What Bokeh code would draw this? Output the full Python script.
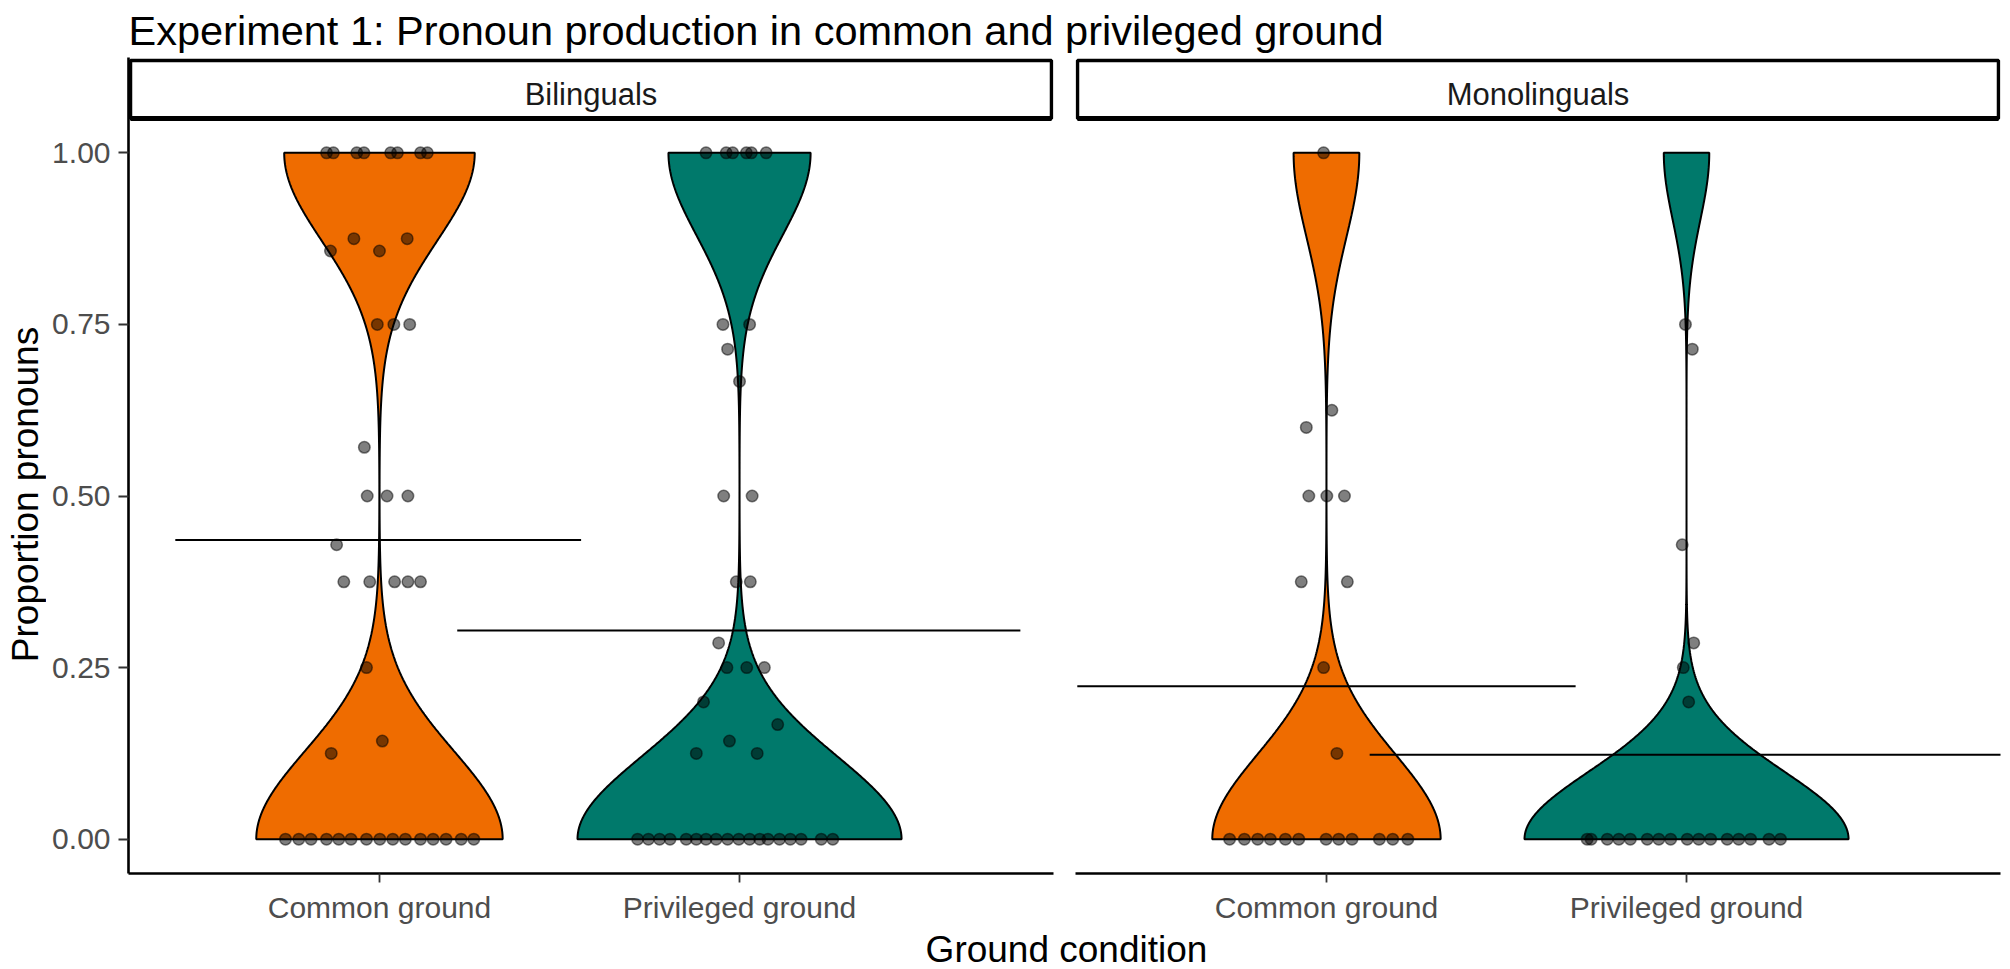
import numpy as np
from bokeh.plotting import figure
from bokeh.layouts import column, row
from bokeh.models import Range1d, FixedTicker, Label, NumeralTickFormatter
from bokeh.embed import file_html
from bokeh.resources import INLINE

# ---------------- data ----------------
title_text = "Experiment 1: Pronoun production in common and privileged ground"
panels = ["Bilinguals", "Monolinguals"]
conditions = ["Common ground", "Privileged ground"]
y_ticks = [0.0, 0.25, 0.50, 0.75, 1.0]
x_title = "Ground condition"
y_title = "Proportion pronouns"

# participant proportions and their horizontal jitter (x units)
bil_common_prop = [1, 1, 1, 1, 1, 1, 1, 1, 0.875, 0.875, 0.857, 0.857, 0.75, 0.75, 0.75,
                   0.571, 0.5, 0.5, 0.5, 0.429, 0.375, 0.375, 0.375, 0.375, 0.375,
                   0.25, 0.143, 0.125] + [0] * 15
bil_common_jitter = [-0.147, -0.128, -0.063, -0.043, 0.031, 0.05, 0.114, 0.133,
                     -0.071, 0.077, -0.136, 0.0, -0.006, 0.04, 0.084,
                     -0.042, -0.034, 0.021, 0.079, -0.119,
                     -0.099, -0.027, 0.042, 0.079, 0.114,
                     -0.036, 0.008, -0.134,
                     -0.261, -0.224, -0.19, -0.147, -0.113, -0.079, -0.036, 0.001,
                     0.037, 0.072, 0.114, 0.149, 0.185, 0.227, 0.262]

bil_priv_prop = [1, 1, 1, 1, 1, 1, 0.75, 0.75, 0.714, 0.667, 0.5, 0.5, 0.375, 0.375,
                 0.286, 0.25, 0.25, 0.25, 0.2, 0.167, 0.143, 0.125, 0.125] + [0] * 18
bil_priv_jitter = [-0.093, -0.037, -0.019, 0.019, 0.033, 0.074, -0.046, 0.028, -0.033,
                   0.0, -0.044, 0.035, -0.009, 0.03, -0.058, -0.035, 0.02, 0.069,
                   -0.1, 0.106, -0.028, -0.12, 0.049,
                   -0.283, -0.253, -0.222, -0.193, -0.148, -0.12, -0.093, -0.065,
                   -0.033, -0.002, 0.028, 0.056, 0.079, 0.111, 0.141, 0.171, 0.227, 0.259]

mono_common_prop = [1, 0.625, 0.6, 0.5, 0.5, 0.5, 0.375, 0.375, 0.25, 0.125] + [0] * 12
mono_common_jitter = [-0.008, 0.015, -0.056, -0.049, 0.001, 0.05, -0.07, 0.058, -0.008, 0.029,
                      -0.269, -0.228, -0.191, -0.156, -0.114, -0.077, -0.001, 0.034,
                      0.071, 0.147, 0.184, 0.226]

mono_priv_prop = [0.75, 0.714, 0.429, 0.286, 0.25, 0.2] + [0] * 16
mono_priv_jitter = [-0.003, 0.016, -0.012, 0.02, -0.009, 0.006,
                    -0.276, -0.265, -0.22, -0.188, -0.156, -0.109, -0.077, -0.044,
                    0.002, 0.034, 0.067, 0.113, 0.145, 0.178, 0.229, 0.261]

# trial-level counts behind the violins (bil-common, bil-priv, mono-common, mono-priv)
trials_total = [516, 492, 264, 252]
trials_pronoun = [225, 150, 59, 31]

# horizontal mean lines (bil-common, bil-priv, mono-common, mono-priv)
mean_y = [0.436, 0.304, 0.223, 0.123]
mean_x0 = [0.433, 1.216, 0.308, 1.12]
mean_x1 = [1.56, 2.78, 1.692, 2.88]

props = [bil_common_prop, bil_priv_prop, mono_common_prop, mono_priv_prop]
jitters = [bil_common_jitter, bil_priv_jitter, mono_common_jitter, mono_priv_jitter]

# ---------------- style / layout ----------------
FONT = "Liberation Sans"
FILL = ["#EF6C00", "#00796B"]
X_LO, X_HI = 0.303, 2.872
FRAME_W = 925
FRAME_H = 818
FRAME_TOP = 57      # page row of the panel frame top
FRAME_BOT = 875     # page row of the panel frame bottom
PX_PER_Y = 688.0
TOP_H = 55          # title strip height
FIG_H = 871         # panel figure height
BOT_H = 43          # x-title strip height
YT_W = 46           # y-title strip width
BASE_SHIFT = 0.30   # em fraction: rendered alphabetic baseline sits this much below y


def y_at(page_y):
    # page pixel row -> data y (frame bottom equals -0.05)
    return -0.05 + (FRAME_BOT - page_y) / PX_PER_Y


def bw_nrd0(x):
    x = np.asarray(x, float)
    hi = x.std(ddof=1)
    q75, q25 = np.percentile(x, [75, 25])
    lo = min(hi, (q75 - q25) / 1.34)
    if lo == 0:
        lo = hi if hi else (abs(x[0]) if x[0] else 1.0)
    return 0.9 * lo * len(x) ** -0.2


def density(x, grid):
    x = np.asarray(x, float)
    bw = bw_nrd0(x)
    vals, counts = np.unique(x, return_counts=True)
    z = (grid[:, None] - vals[None, :]) / bw
    return (np.exp(-0.5 * z ** 2) * counts[None, :]).sum(1) / (len(x) * bw * np.sqrt(2 * np.pi))


def make_panel(pi, border_left, border_right, show_y):
    top_b = FRAME_TOP - TOP_H
    p = figure(width=border_left + FRAME_W + border_right, height=FIG_H,
               x_range=Range1d(X_LO, X_HI),
               y_range=Range1d(-0.05, -0.05 + FRAME_H / PX_PER_Y),
               toolbar_location=None, output_backend="svg", title=None,
               y_axis_location="left" if show_y else None,
               min_border_left=border_left, min_border_right=border_right,
               min_border_top=top_b, min_border_bottom=FIG_H - top_b - FRAME_H)
    p.outline_line_color = None
    p.grid.visible = False
    p.background_fill_color = "white"
    p.border_fill_color = "white"

    # violins (density of trial-level binary responses, area-scaled per panel)
    shapes = []
    for ci in range(2):
        g = pi * 2 + ci
        trials = np.array([1.0] * trials_pronoun[g] + [0.0] * (trials_total[g] - trials_pronoun[g]))
        grid = np.linspace(trials.min(), trials.max(), 512)
        shapes.append((grid, density(trials, grid)))
    dmax = max(d.max() for _, d in shapes)
    for ci, (grid, d) in enumerate(shapes):
        half = 0.45 * d / dmax
        cx = ci + 1
        xs = np.concatenate([cx - half, (cx + half)[::-1]])
        ys = np.concatenate([grid, grid[::-1]])
        p.patch(xs, ys, fill_color=FILL[ci], line_color="black", line_width=2)

    # points
    for ci in range(2):
        g = pi * 2 + ci
        xs = [ci + 1 + j for j in jitters[g]]
        p.scatter(xs, props[g], size=11.5, fill_color="black", fill_alpha=0.5,
                  line_color="black", line_alpha=0.5, line_width=1.5)

    # mean lines
    for ci in range(2):
        g = pi * 2 + ci
        p.segment(x0=[mean_x0[g]], x1=[mean_x1[g]], y0=[mean_y[g]], y1=[mean_y[g]],
                  line_color="black", line_width=2)

    # strip
    sl = X_LO + 2 / 360.0
    sr = X_HI - 2 / 360.0
    st = y_at(60)
    sb = 1.05
    p.quad(left=[sl], right=[sr], top=[st], bottom=[sb], fill_color="white",
           line_color="black", line_width=3.5)
    p.segment(x0=[sl], x1=[sr], y0=[sb], y1=[sb], line_color="black", line_width=5)
    p.add_layout(Label(x=(X_LO + X_HI) / 2, y=y_at(103 - BASE_SHIFT * 31), text=panels[pi],
                       text_align="center", text_baseline="alphabetic",
                       text_font=FONT, text_font_size="31px", text_color="#1A1A1A"))

    # x axis
    xa = p.xaxis[0]
    xa.ticker = FixedTicker(ticks=[1, 2])
    xa.major_label_overrides = {1: conditions[0], 2: conditions[1]}
    xa.minor_tick_line_color = None
    xa.major_tick_in = 0
    xa.major_tick_out = 9
    xa.major_tick_line_color = "#333333"
    xa.major_tick_line_width = 1.8
    xa.axis_line_color = "black"
    xa.axis_line_width = 2.6
    xa.major_label_text_font = FONT
    xa.major_label_text_font_size = "30px"
    xa.major_label_text_color = "#4D4D4D"
    xa.major_label_standoff = 8

    if show_y:
        ya = p.yaxis[0]
        ya.ticker = FixedTicker(ticks=y_ticks)
        ya.formatter = NumeralTickFormatter(format="0.00")
        ya.minor_tick_line_color = None
        ya.major_tick_in = 0
        ya.major_tick_out = 10
        ya.major_tick_line_color = "#333333"
        ya.major_tick_line_width = 1.8
        ya.axis_line_color = "black"
        ya.axis_line_width = 2.6
        ya.major_label_text_font = FONT
        ya.major_label_text_font_size = "30px"
        ya.major_label_text_color = "#4D4D4D"
        ya.major_label_standoff = 8
    return p


def text_fig(width, height, txt, x, y, size, align, angle=0.0):
    f = figure(width=width, height=height, x_range=Range1d(0, 1), y_range=Range1d(0, 1),
               toolbar_location=None, output_backend="svg", title=None,
               x_axis_location=None, y_axis_location=None,
               min_border=0, min_border_left=0, min_border_right=0,
               min_border_top=0, min_border_bottom=0)
    f.outline_line_color = None
    f.grid.visible = False
    f.add_layout(Label(x=x, y=y, x_units="screen", y_units="screen", text=txt,
                       angle=angle, text_align=align, text_baseline="alphabetic",
                       text_font=FONT, text_font_size=size, text_color="black"))
    return f


left = make_panel(0, 128 - YT_W, 11, True)
right = make_panel(1, 11, 3, False)
TOTAL_W = YT_W + left.width + right.width

title_fig = text_fig(TOTAL_W, TOP_H, title_text, 128, TOP_H - 42 + BASE_SHIFT * 41.5,
                     "41.5px", "left")
# the y-title strip shares the panels' frame rows (57..875) inside the row layout
ytitle_fig = text_fig(YT_W, FIG_H, y_title, 36 - BASE_SHIFT * 37, FRAME_BOT - 496,
                      "37px", "center", angle=np.pi / 2)
xtitle_fig = text_fig(TOTAL_W, BOT_H, x_title, 1066,
                      (TOP_H + FIG_H + BOT_H) - 960 + BASE_SHIFT * 37, "37px", "center")

layout = column(title_fig, row(ytitle_fig, left, right), xtitle_fig)
open("out.html", "w").write(file_html(layout, INLINE))
